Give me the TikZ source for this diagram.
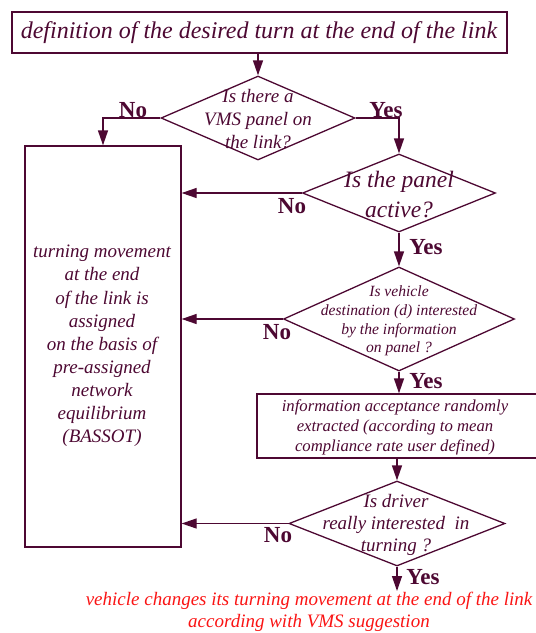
\documentclass[tikz,border=0pt]{standalone}
\usepackage{fontspec}
\setmainfont{Liberation Serif}
\usetikzlibrary{shapes.geometric,arrows.meta}
\definecolor{ink}{RGB}{77,8,50}
\definecolor{note}{RGB}{250,20,20}
\newcommand{\fs}[2]{\fontsize{#1}{#2}\selectfont}
\begin{document}
\begin{tikzpicture}[x=1pt,y=-1pt,
  box/.style={draw=ink,rectangle,inner sep=0pt,line width=1.3pt},
  dia/.style={draw=ink,diamond,inner sep=0pt,line width=1.3pt},
  flow/.style={draw=ink,line width=1.3pt,-{Triangle[length=15pt,width=10pt]}},
  txt/.style={text=ink,align=center,inner sep=0pt},
  lab/.style={text=ink,inner sep=0pt,anchor=base,font=\fs{23}{23}\bfseries}]
\useasboundingbox (0,0) rectangle (536,633);

% boxes and decisions
\node[box,minimum width=495pt,minimum height=41pt] (top) at (259.5,32.5) {};
\node[txt,font=\fs{24}{28}\itshape] (topt) at (259,33) {definition of the desired turn at the end of the link};

\node[dia,minimum width=194pt,minimum height=84pt] (d1) at (258,118) {};
\node[txt,font=\fs{19}{23}\itshape] (d1t) at (258,119) {Is there a\\VMS panel on\\the link?};

\node[box,minimum width=156pt,minimum height=401pt] (nobox) at (103,346.5) {};
\node[txt,font=\fs{19}{23.1}\itshape] (noboxt) at (102,346) {turning movement\\at the end\\of the link is\\assigned\\on the basis of\\pre-assigned\\network\\equilibrium\\(BASSOT)};

\node[dia,minimum width=193pt,minimum height=78pt] (d2) at (399,193) {};
\node[txt,font=\fs{23.5}{30}\itshape] (d2t) at (399,195) {Is the panel\\active?};

\node[dia,minimum width=231pt,minimum height=104pt] (d3) at (399,319) {};
\node[txt,font=\fs{15.6}{18.6}\itshape] (d3t) at (399,321) {Is vehicle\\destination (d) interested\\by the information\\on panel ?};

\node[box,minimum width=283pt,minimum height=64pt] (info) at (398.5,426) {};
\node[txt,font=\fs{16.7}{20}\itshape] (infot) at (395,427) {information acceptance randomly\\extracted (according to mean\\compliance rate user defined)};

\node[dia,minimum width=216pt,minimum height=85pt] (d4) at (397,523.5) {};
\node[txt,font=\fs{19}{22}\itshape] (d4t) at (396,525) {Is driver\\really interested\ \ in\\turning ?};

\node[txt,text=note,font=\fs{19}{22}\itshape] (res) at (309,612) {vehicle changes its turning movement at the end of the link\\according with VMS suggestion};
\coordinate (resin) at (397,591);

% connectors
\draw[flow] (top.south -| d1.north) -- (d1.north);
\draw[flow] (d1.west) -| (nobox.north);
\draw[flow] (d1.east) -| (d2.north);
\draw[flow] (d2.west) -- (d2.west -| nobox.east);
\draw[flow] (d2.south) -- (d3.north);
\draw[flow] (d3.west) -- (d3.west -| nobox.east);
\draw[flow] (d3.south) -- (d3.south |- info.north);
\draw[flow] (info.south -| d4.north) -- (d4.north);
\draw[flow] (d4.west) -- (d4.west -| nobox.east);
\draw[flow] (d4.south) -- (resin);

% branch labels
\node[lab] (no1) at (133,117) {No};
\node[lab] (yes1) at (386,117) {Yes};
\node[lab] (no2) at (292,213) {No};
\node[lab] (yes2) at (426,254) {Yes};
\node[lab] (no3) at (277,339) {No};
\node[lab] (yes3) at (426,388) {Yes};
\node[lab] (no4) at (278,542) {No};
\node[lab] (yes4) at (423,584) {Yes};
\end{tikzpicture}
\end{document}
